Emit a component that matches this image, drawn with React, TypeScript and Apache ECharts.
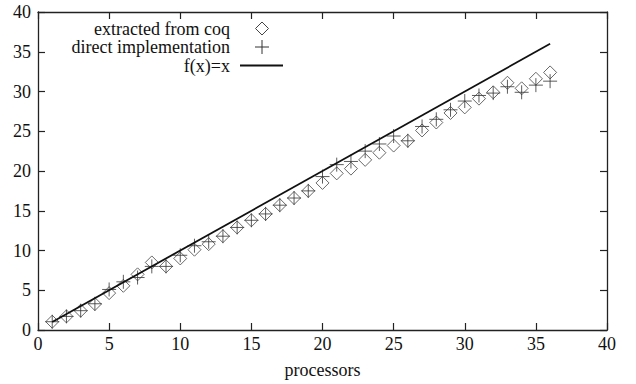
import React, { useEffect, useRef } from "react";
import * as echarts from "echarts";

const processors = [1,2,3,4,5,6,7,8,9,10,11,12,13,14,15,16,17,18,19,20,21,22,23,24,25,26,27,28,29,30,31,32,33,34,35,36];
const extractedFromCoq = [1.04,1.71,2.43,3.26,4.64,5.56,7.0,8.5,8.0,9.0,10.1,10.8,11.8,12.9,13.8,14.6,15.7,16.6,17.5,18.5,19.7,20.3,21.4,22.3,23.2,23.8,25.1,26.1,27.3,28.0,29.1,29.9,31.1,30.4,31.6,32.4];
const directImplementation = [1.04,1.71,2.43,3.3,5.1,6.06,6.6,8.0,8.0,9.4,10.6,11.1,11.8,12.9,13.8,14.6,15.7,16.6,17.5,19.3,20.8,21.2,22.5,23.4,24.4,23.8,25.6,26.5,27.7,28.8,29.5,29.8,30.6,29.9,30.8,31.3];
const identityX = [1, 36];
const legendNames = ["extracted from coq", "direct implementation", "f(x)=x"];
const xTicks = [0, 40, 5];
const yTicks = [0, 40, 5];

const FONT = "Liberation Serif";
const FS = 18;
const AXIS_COLOR = "#222";

export default function App() {
  const ref = useRef<HTMLDivElement>(null);
  useEffect(() => {
    if (!ref.current) return;
    const chart = echarts.init(ref.current, null, { renderer: "svg" });
    const axisCommon = {
      type: "value" as const,
      interval: xTicks[2],
      axisLine: { show: true, onZero: false, lineStyle: { color: AXIS_COLOR, width: 1.3 } },
      axisTick: { show: true, inside: true, length: 7, lineStyle: { color: AXIS_COLOR, width: 1.2 } },
      splitLine: { show: false },
    };
    const labelStyle = { color: "#111", fontFamily: FONT, fontSize: FS };
    const legendText = (i: number, top: number) => ({
      type: "text",
      right: 636 - 230,
      top,
      style: { text: legendNames[i], fill: "#111", fontFamily: FONT, fontSize: FS, lineHeight: 17 },
    });
    chart.setOption({
      animation: false,
      backgroundColor: "#fff",
      textStyle: { fontFamily: FONT },
      grid: { left: 38, right: 29, top: 12, bottom: 53 },
      xAxis: [
        {
          ...axisCommon,
          position: "bottom",
          min: xTicks[0],
          max: xTicks[1],
          axisLabel: { ...labelStyle, margin: 5 },
          name: "processors",
          nameLocation: "middle",
          nameGap: 31,
          nameTextStyle: { color: "#111", fontFamily: FONT, fontSize: FS },
        },
        {
          ...axisCommon,
          position: "top",
          min: xTicks[0],
          max: xTicks[1],
          axisLabel: { show: false },
        },
      ],
      yAxis: [
        {
          ...axisCommon,
          interval: yTicks[2],
          position: "left",
          min: yTicks[0],
          max: yTicks[1],
          axisLabel: { ...labelStyle, margin: 7 },
        },
        {
          ...axisCommon,
          interval: yTicks[2],
          position: "right",
          min: yTicks[0],
          max: yTicks[1],
          axisLabel: { show: false },
        },
      ],
      series: [
        {
          name: legendNames[2],
          type: "line",
          data: identityX.map((x) => [x, x]),
          showSymbol: false,
          lineStyle: { color: "#111", width: 1.8 },
          z: 3,
        },
        {
          name: legendNames[0],
          type: "scatter",
          data: processors.map((p, i) => [p, extractedFromCoq[i]]),
          symbol: "diamond",
          symbolSize: [13, 13],
          itemStyle: { color: "rgba(0,0,0,0)", borderColor: "#444", borderWidth: 1 },
          z: 2,
        },
        {
          name: legendNames[1],
          type: "scatter",
          data: processors.map((p, i) => [p, directImplementation[i]]),
          symbol: "path://M0,6H12M6,0V12",
          symbolSize: [14, 14],
          itemStyle: { color: "#333", borderColor: "#333", borderWidth: 1 },
          z: 2,
        },
      ],
      graphic: [
        legendText(0, 19.5),
        legendText(1, 38),
        legendText(2, 56.5),
        {
          type: "polygon",
          shape: { points: [[262, 22], [268.5, 28.5], [262, 35], [255.5, 28.5]] },
          style: { fill: "none", stroke: "#444", lineWidth: 1 },
        },
        { type: "line", shape: { x1: 255, y1: 47, x2: 269, y2: 47 }, style: { stroke: "#333", lineWidth: 1 } },
        { type: "line", shape: { x1: 262, y1: 40, x2: 262, y2: 54 }, style: { stroke: "#333", lineWidth: 1 } },
        { type: "line", shape: { x1: 240, y1: 65.5, x2: 283, y2: 65.5 }, style: { stroke: "#111", lineWidth: 1.8 } },
      ],
    });
    return () => chart.dispose();
  }, []);
  return <div ref={ref} style={{ width: 636, height: 384, position: "absolute", left: 0, top: 0 }} />;
}
